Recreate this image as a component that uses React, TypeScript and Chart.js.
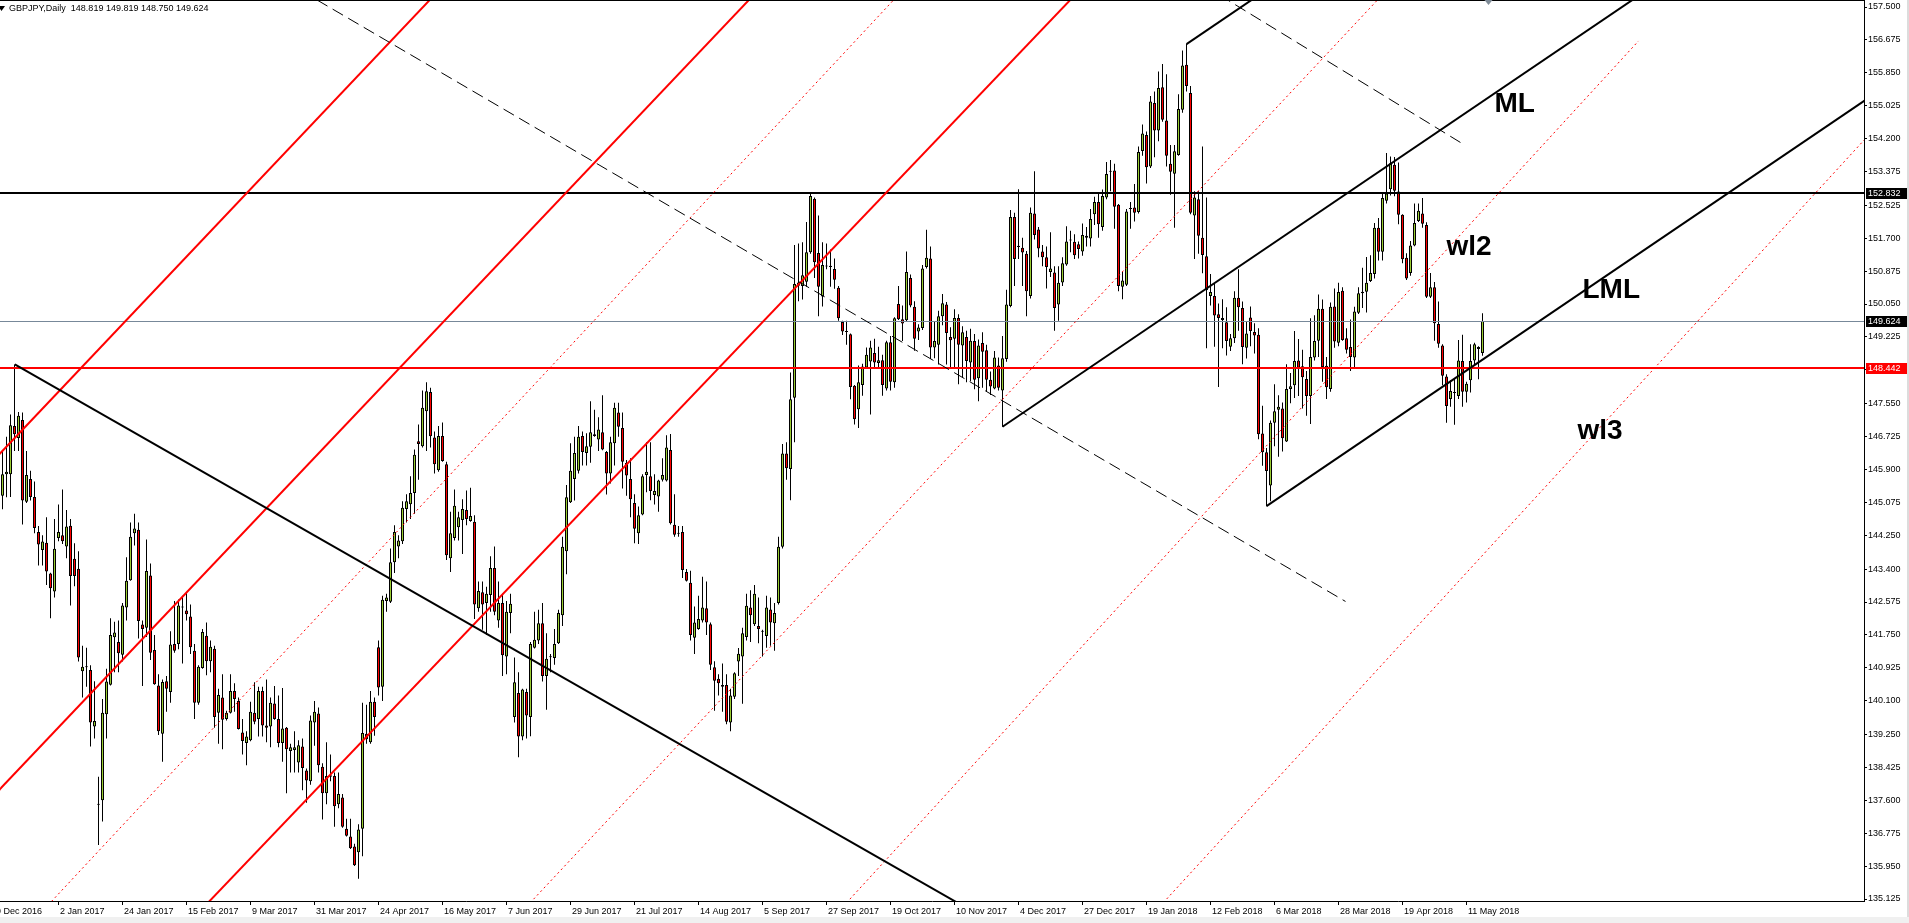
import React, { useEffect, useRef } from "react";
import { Chart, registerables } from "chart.js";

Chart.register(...registerables);

// ---------------- data ----------------
const SYMBOL = "GBPJPY";
const PERIOD = "Daily";
const FIRST_BAR = 2; // bar index of the first candle (bar 0 = 9 Dec 2016)

const opens = [
  145.24,145.78,145.78,146.99,146.69,147.14,145.09,145.66,145.21,144.33,
  143.88,144.06,143.29,142.84,144.18,144.25,143.97,144.49,143.66,143.41,
  140.84,140.95,140.87,139.45,137.51,137.60,139.76,140.50,141.69,141.57,
  141.25,142.44,143.12,144.30,144.39,142.01,141.93,143.24,141.37,140.48,
  139.27,140.59,140.32,141.52,141.52,142.45,142.36,142.21,141.35,140.05,
  140.92,141.73,141.09,141.40,139.80,140.18,139.64,139.80,140.34,140.09,
  139.30,139.04,139.11,139.80,139.64,140.34,139.48,139.45,140.03,139.64,
  139.04,139.42,138.84,138.86,138.55,138.95,138.35,138.08,139.55,139.78,
  138.44,137.78,138.19,138.21,137.50,137.67,136.89,136.69,136.44,136.30,
  136.89,139.27,139.06,140.07,141.44,140.45,142.60,142.58,143.57,143.97,
  144.10,144.91,145.03,145.31,146.61,146.48,147.36,147.84,146.70,145.88,
  146.74,146.03,143.67,144.18,144.45,144.63,144.88,144.61,144.59,142.42,
  142.82,142.55,142.75,143.43,142.11,142.55,141.21,142.30,139.69,140.29,
  139.20,140.32,139.69,141.43,141.61,142.04,140.72,141.19,141.17,141.54,
  142.24,143.85,145.08,145.66,145.87,146.74,146.31,146.47,146.74,146.65,
  146.83,146.34,145.80,146.56,147.33,146.94,146.06,145.66,145.06,144.30,
  144.77,145.76,145.73,145.26,145.22,145.64,145.62,146.39,144.51,144.30,
  144.33,143.33,143.06,141.68,141.90,142.11,142.42,142.02,140.94,140.65,
  140.49,140.49,139.55,140.20,141.08,141.21,141.70,142.44,142.02,141.97,
  141.84,141.72,142.39,142.04,142.55,143.96,146.30,145.91,147.70,150.51,
  150.50,150.61,151.35,152.69,151.33,150.24,151.01,151.01,150.93,150.46,
  149.60,149.36,149.29,148.00,147.41,148.02,148.46,148.61,148.82,148.57,
  148.64,147.93,149.09,148.09,150.05,149.67,149.64,150.70,149.98,149.36,
  149.45,150.98,151.19,148.96,149.03,149.74,150.04,149.22,149.18,149.70,
  149.01,149.22,148.58,149.12,148.19,149.07,148.89,148.15,147.93,148.51,
  147.88,148.67,150.00,152.23,151.51,151.46,151.31,150.25,152.32,151.92,
  151.37,151.22,150.85,150.84,150.04,150.59,151.04,151.64,151.61,151.55,
  151.37,151.76,151.69,152.30,152.61,151.98,152.72,153.37,153.40,152.54,
  150.48,150.53,152.43,152.47,152.36,153.89,154.29,153.50,155.09,154.40,
  155.49,154.65,153.57,153.32,153.79,154.92,156.05,155.34,152.27,152.68,
  151.71,151.25,150.25,150.25,149.79,149.70,149.59,148.98,149.19,150.21,
  149.95,148.95,149.71,149.35,149.28,146.80,146.33,145.50,147.07,147.40,
  147.43,146.60,147.92,148.01,148.63,148.49,148.17,147.74,148.71,149.13,
  149.93,148.50,147.92,149.99,149.08,150.38,149.19,148.97,148.71,149.83,
  150.32,150.36,150.63,150.80,151.96,151.36,152.64,152.93,153.54,152.87,
  152.29,151.21,150.83,151.52,152.13,152.32,152.03,150.23,150.47,149.55,
  149.01,148.23,147.67,147.83,147.74,148.62,147.85,148.14,148.63,148.97,
  148.819,
];

const highs = [
  146.36,146.72,147.28,148.53,147.34,147.33,146.36,145.87,145.60,144.48,
  144.25,144.70,143.31,144.66,145.02,145.40,144.88,144.66,144.05,143.85,
  141.48,141.43,140.99,140.59,138.19,140.14,140.90,142.17,142.08,142.11,
  142.55,143.70,144.57,144.79,144.57,142.11,144.14,143.54,141.75,140.76,
  140.63,140.72,141.84,142.60,142.64,142.73,142.82,142.51,141.52,140.99,
  141.90,142.06,141.61,141.48,140.40,140.76,139.85,140.76,140.54,140.18,
  139.64,139.33,140.07,140.56,140.45,140.45,140.63,140.18,140.47,140.23,
  140.42,139.44,139.02,139.33,139.11,139.15,138.40,139.73,140.09,139.93,
  138.53,139.06,138.75,138.30,138.30,137.76,137.14,137.14,136.51,137.00,
  140.05,140.00,140.34,140.18,141.61,142.73,142.78,143.92,144.50,144.25,
  145.10,145.28,145.73,146.40,147.03,147.88,148.09,147.95,146.85,146.99,
  147.08,146.09,144.84,145.40,144.84,145.15,145.37,145.44,144.75,143.09,
  143.09,142.96,143.72,143.97,143.09,142.78,142.60,142.78,141.18,140.81,
  140.40,140.40,141.57,142.33,142.38,142.55,141.79,141.27,141.90,142.38,
  144.21,145.51,146.56,146.72,146.99,146.85,146.81,147.61,147.40,147.21,
  147.76,146.36,146.72,147.57,147.57,147.33,146.14,146.18,145.28,144.97,
  145.78,146.58,146.58,145.78,145.64,146.18,146.76,146.79,145.28,144.48,
  144.48,143.40,143.36,142.46,142.73,143.21,143.09,142.06,141.09,140.76,
  141.03,140.76,140.40,140.81,141.42,141.93,142.78,142.87,143.00,142.69,
  141.88,142.73,142.69,142.55,144.21,146.54,146.58,148.33,151.53,151.57,
  151.60,152.11,152.82,152.72,152.27,151.60,151.57,151.42,151.19,150.50,
  149.63,149.63,149.31,148.02,148.51,148.55,148.96,149.13,149.18,148.98,
  148.78,149.13,149.25,149.72,150.50,150.01,151.37,150.79,150.12,149.54,
  151.03,151.91,151.49,149.61,149.88,150.30,150.10,149.47,149.92,149.79,
  149.49,149.38,149.43,149.30,149.16,149.34,149.03,148.36,148.87,148.71,
  149.25,150.41,152.41,152.34,152.93,151.71,151.38,152.47,153.38,151.98,
  151.53,151.49,151.85,151.00,151.00,151.22,152.00,151.89,151.80,151.62,
  152.07,151.98,152.43,152.74,152.83,152.92,153.61,153.66,153.57,152.56,
  150.86,152.43,152.61,153.06,154.00,154.55,154.38,155.27,155.38,155.88,
  156.07,155.81,154.04,154.04,155.31,156.41,156.57,155.52,152.88,152.88,
  154.00,152.72,150.80,150.55,150.06,150.17,149.97,149.30,150.37,150.92,
  150.11,149.62,149.99,149.57,149.44,147.50,146.44,147.13,148.04,147.76,
  147.58,148.54,148.32,149.37,149.17,148.90,148.37,149.69,149.77,150.29,
  150.16,148.72,150.09,150.44,150.58,150.47,149.44,149.66,149.98,150.47,
  150.96,151.23,151.27,152.08,152.21,152.86,153.84,153.75,153.74,153.60,
  152.30,151.32,151.63,152.57,152.57,152.71,152.10,150.83,150.60,150.11,
  149.04,148.29,148.14,148.19,149.15,149.28,148.10,149.04,149.08,148.99,
  149.819,
];

const lows = [
  144.90,145.20,145.21,146.36,146.36,144.52,145.06,145.12,144.30,143.49,
  143.49,143.00,142.17,142.69,144.10,144.03,143.67,142.49,142.97,141.08,
  140.18,140.45,138.95,139.15,136.48,137.07,139.15,140.48,140.81,140.81,
  141.08,142.11,143.11,143.99,141.66,140.47,141.70,141.12,140.50,139.24,
  138.57,139.82,140.05,141.30,141.39,141.03,142.11,141.27,139.64,140.00,
  140.90,140.74,140.81,139.42,139.02,138.88,139.60,139.78,139.82,139.38,
  138.75,138.48,139.08,139.51,139.20,139.20,139.06,138.93,139.62,138.93,
  138.57,137.78,138.30,138.30,138.30,137.85,137.54,137.99,138.97,138.30,
  137.12,137.50,138.08,136.94,137.40,136.91,136.69,136.38,135.95,135.63,
  136.20,139.02,139.02,139.22,140.23,140.09,142.33,142.55,143.30,143.67,
  144.03,144.57,144.66,144.79,145.64,146.45,146.36,146.45,145.80,145.84,
  146.09,143.63,143.33,144.12,144.12,143.78,144.50,144.59,142.15,142.33,
  141.88,141.75,142.33,142.24,141.93,140.72,140.76,141.79,139.55,138.68,
  139.11,139.15,139.21,141.41,141.52,140.58,139.87,140.81,141.00,141.52,
  141.97,143.27,145.06,145.12,145.80,146.00,146.00,146.07,146.72,146.36,
  146.38,145.27,145.55,146.00,146.72,145.42,145.24,144.70,144.05,144.03,
  144.75,145.33,145.13,145.02,144.84,145.60,145.60,144.52,144.21,144.21,
  143.18,143.09,141.61,141.27,141.88,142.06,141.75,140.87,139.85,140.23,
  139.82,139.51,139.33,140.14,140.72,140.02,141.61,141.57,141.97,141.54,
  141.21,141.43,141.48,141.35,142.51,143.92,145.64,145.13,146.58,150.12,
  150.16,150.48,151.31,150.70,149.74,149.99,150.92,150.48,150.43,149.63,
  149.27,149.03,147.66,147.03,146.94,147.75,148.42,147.28,148.42,148.42,
  147.75,147.88,147.88,147.95,149.65,149.12,149.60,149.97,148.88,149.15,
  149.40,150.94,148.67,148.69,148.53,149.52,148.53,148.45,148.45,148.04,
  148.22,148.09,148.11,147.91,147.61,147.95,147.86,147.77,147.91,147.88,
  146.97,148.60,149.97,150.50,151.18,150.50,149.74,150.19,151.67,151.22,
  151.00,150.44,150.73,149.38,149.63,150.50,151.01,151.35,151.18,151.19,
  151.26,151.49,151.49,152.03,151.71,151.89,152.68,152.88,151.94,150.37,
  150.17,150.50,151.94,152.12,152.32,153.77,153.07,153.46,153.73,154.13,
  154.62,153.50,152.79,151.96,153.77,154.85,155.38,152.30,151.18,151.31,
  150.82,148.94,150.01,148.98,147.97,148.94,148.76,148.87,149.07,149.38,
  148.54,148.68,148.99,148.81,146.66,145.99,144.98,145.10,146.48,146.22,
  146.35,146.59,147.56,147.69,147.74,147.43,147.25,147.04,148.63,148.72,
  148.10,147.67,147.85,148.95,148.99,149.13,148.81,148.37,148.45,149.80,
  149.95,149.84,150.60,150.69,151.14,151.14,152.57,152.77,152.75,152.05,
  151.07,150.65,150.76,151.50,152.11,151.96,150.20,150.20,149.13,148.95,
  148.01,147.07,147.47,147.02,147.67,147.47,147.58,147.83,148.50,148.16,
  148.750,
];

const closes = [
  145.78,145.84,147.01,146.78,147.25,145.12,145.76,145.21,144.43,144.02,
  144.09,143.34,142.92,143.91,144.33,144.10,144.47,143.23,143.23,141.18,
  140.95,140.94,139.55,139.59,137.49,139.80,140.58,141.75,141.81,141.29,
  142.49,143.11,144.21,144.42,142.10,141.90,143.35,141.30,140.51,139.33,
  140.57,140.40,141.51,141.35,142.49,142.44,142.27,141.44,140.05,140.95,
  141.82,141.09,141.45,139.69,140.24,139.62,139.80,140.34,140.14,139.39,
  139.09,139.20,139.82,139.57,140.34,139.48,139.42,140.05,139.64,139.04,
  139.40,138.88,138.93,138.93,138.98,138.41,138.10,139.60,139.82,138.48,
  137.78,138.21,138.23,137.45,137.76,136.94,136.71,136.40,135.97,136.87,
  139.29,139.13,140.07,139.69,140.43,142.63,142.69,143.57,144.33,144.12,
  144.94,145.10,145.31,146.27,146.54,147.45,147.86,146.73,146.03,146.74,
  146.11,143.75,144.30,144.99,144.70,144.91,144.66,144.73,142.51,142.85,
  142.51,142.78,143.43,142.33,142.55,141.24,142.33,142.53,140.56,139.20,
  140.38,139.73,141.52,141.63,142.04,140.72,141.15,141.21,141.52,142.30,
  143.96,145.20,145.87,146.31,146.72,146.34,146.48,146.83,146.78,146.90,
  146.40,145.80,146.58,147.45,146.97,146.09,145.75,145.15,144.41,144.75,
  145.73,145.84,145.36,145.36,145.62,145.76,146.45,144.55,144.26,144.29,
  143.38,143.11,141.75,142.06,142.15,142.44,142.06,141.00,140.60,140.54,
  140.45,139.57,140.23,140.79,141.28,141.79,142.48,142.24,142.78,141.90,
  141.83,142.44,142.06,142.30,143.96,146.30,145.93,147.66,150.55,150.59,
  150.77,151.35,152.76,151.10,150.48,151.03,150.99,150.98,150.66,149.69,
  149.36,149.35,147.97,147.16,148.09,148.48,148.78,148.96,148.58,148.64,
  148.02,149.09,148.10,149.69,149.67,149.56,150.85,150.01,149.18,149.46,
  150.94,151.21,148.96,149.12,149.74,150.07,149.32,149.14,149.70,149.03,
  149.34,148.62,149.13,148.15,149.01,148.85,148.15,147.98,148.71,147.95,
  148.69,150.04,152.23,151.18,151.48,151.34,150.37,152.34,151.78,151.44,
  151.22,150.98,150.94,149.95,150.58,151.07,151.62,151.65,151.27,151.43,
  151.78,151.71,152.18,152.61,152.05,152.76,153.31,153.38,152.49,150.50,
  150.64,152.37,152.46,152.34,153.86,154.33,153.48,155.13,154.40,155.47,
  154.67,153.77,153.37,153.88,154.94,156.03,155.52,152.34,152.72,151.76,
  151.28,150.40,150.35,149.76,149.70,149.65,149.12,149.19,150.21,149.97,
  148.97,149.31,149.37,149.26,146.78,146.33,145.86,147.07,147.36,147.47,
  146.68,147.92,147.99,148.62,148.45,148.21,147.74,148.72,149.12,149.93,
  148.47,147.96,149.98,149.11,150.35,149.15,148.90,148.72,149.86,150.32,
  150.36,150.58,150.83,151.96,151.36,152.71,152.82,153.58,152.89,152.29,
  151.17,150.69,151.52,152.08,152.39,152.06,150.23,150.47,149.57,149.05,
  148.25,147.49,147.87,147.82,148.63,147.85,148.05,148.62,149.04,148.92,
  149.624,
];

const xTickBars = [0,16,32,48,64,80,96,112,128,144,160,176,192,208,224,240,256,272,288,304,320,336,352,368];
const xTickLabels = [
  "9 Dec 2016","2 Jan 2017","24 Jan 2017","15 Feb 2017","9 Mar 2017","31 Mar 2017",
  "24 Apr 2017","16 May 2017","7 Jun 2017","29 Jun 2017","21 Jul 2017","14 Aug 2017",
  "5 Sep 2017","27 Sep 2017","19 Oct 2017","10 Nov 2017","4 Dec 2017","27 Dec 2017",
  "19 Jan 2018","12 Feb 2018","6 Mar 2018","28 Mar 2018","19 Apr 2018","11 May 2018",
];
const yTickValues = [
  157.5,156.675,155.85,155.025,154.2,153.375,152.525,151.7,150.875,150.05,149.225,148.4,
  147.55,146.725,145.9,145.075,144.25,143.4,142.575,141.75,140.925,140.1,139.25,138.425,
  137.6,136.775,135.95,135.125,
];
const levelPrices = [152.832, 149.624, 148.442];

// trend lines: two anchor points [bar, price]; ext = which side runs on to the chart edge
const redSolidLines = [
  { a: [1.5, 146.314], b: [30.675, 149.403], ext: "both" },
  { a: [1.5, 137.899], b: [79, 146.091], ext: "both" },
  { a: [56.5, 135.36], b: [156.5, 145.865], ext: "both" },
];
const redDottedLines = [
  { a: [17, 135.36], b: [156.5, 150.343], ext: "both" },
  { a: [137, 135.36], b: [311.5, 154.015], ext: "both" },
  { a: [326.5, 147.422], b: [411, 156.648], ext: "start" },
  { a: [371, 143.637], b: [466.75, 154.091], ext: "both" },
];
const blackSolidLines = [
  { a: [5.075, 148.535], b: [79, 144.299], ext: "end" },
  { a: [252, 146.97], b: [326.5, 152.035], ext: "end" },
  { a: [318, 144.98], b: [467.5, 155.151], ext: "end" },
  { a: [298, 156.57], b: [318, 157.93], ext: "end" },
];
const blackDashedLines = [
  { a: [80.65, 157.675], b: [337.75, 142.589], ext: "none" },
  { a: [326.5, 156.557], b: [367.5, 154.04], ext: "start" },
];
const textLabels = [
  { text: "ML", bar: 375, price: 154.87 },
  { text: "wl2", bar: 363, price: 151.28 },
  { text: "LML", bar: 397, price: 150.205 },
  { text: "wl3", bar: 395.75, price: 146.67 },
];
const SHIFT_MARKER_BAR = 373.5;

// ---------------- layout / styles ----------------
const W = 1909;
const H = 923;
const X_MIN = 1.375;
const X_MAX = 467.375;
const Y_MAX = 157.6756;
const Y_MIN = 135.075;
const FONT = "'Liberation Sans', Arial, sans-serif";
const GREEN = "#9acd32";
const RED = "#ff0000";

const LINE_STYLES = [
  { lines: redSolidLines, color: "#ff0000", width: 2, dash: [] as number[] },
  { lines: redDottedLines, color: "#ff0000", width: 1, dash: [2, 3] },
  { lines: blackDashedLines, color: "#000000", width: 1, dash: [12, 6] },
  { lines: blackSolidLines, color: "#000000", width: 2, dash: [] as number[] },
];
const LEVEL_STYLES = [
  { line: "#000000", width: 2, box: "#000000" },
  { line: "#778899", width: 1, box: "#000000" },
  { line: "#ff0000", width: 2, box: "#ff0000" },
];

const fmt = (v: number) => v.toFixed(3);

function strokeTrend(ctx: CanvasRenderingContext2D, xs: any, ys: any, ln: any) {
  const [i1, v1] = ln.a;
  const [i2, v2] = ln.b;
  const t0 = ln.ext === "both" || ln.ext === "start" ? -40 : 0;
  const t1 = ln.ext === "both" || ln.ext === "end" ? 40 : 1;
  const P = (t: number) => [
    xs.getPixelForValue(i1 + (i2 - i1) * t),
    ys.getPixelForValue(v1 + (v2 - v1) * t),
  ];
  const [xa, ya] = P(t0);
  const [xb, yb] = P(t1);
  ctx.beginPath();
  ctx.moveTo(xa, ya);
  ctx.lineTo(xb, yb);
  ctx.stroke();
}

const overlayPlugin = {
  id: "mt4Overlay",
  afterDatasetsDraw(chart: any) {
    const { ctx, chartArea: ca } = chart;
    const xs = chart.scales.x;
    const ys = chart.scales.y;
    ctx.save();
    ctx.beginPath();
    ctx.rect(ca.left, ca.top, ca.right - ca.left, ca.bottom - ca.top);
    ctx.clip();

    // horizontal price levels
    levelPrices.forEach((p, k) => {
      const st = LEVEL_STYLES[k];
      const yy = Math.round(ys.getPixelForValue(p));
      ctx.strokeStyle = st.line;
      ctx.lineWidth = st.width;
      ctx.setLineDash([]);
      const y = st.width % 2 === 1 ? yy + 0.5 : yy;
      ctx.beginPath();
      ctx.moveTo(ca.left, y);
      ctx.lineTo(ca.right, y);
      ctx.stroke();
    });

    // trend lines
    for (const g of LINE_STYLES) {
      ctx.strokeStyle = g.color;
      ctx.lineWidth = g.width;
      ctx.setLineDash(g.dash);
      for (const ln of g.lines) strokeTrend(ctx, xs, ys, ln);
    }
    ctx.setLineDash([]);

    // text labels
    ctx.fillStyle = "#000";
    ctx.font = `bold 28px ${FONT}`;
    ctx.textAlign = "left";
    ctx.textBaseline = "alphabetic";
    for (const t of textLabels) {
      ctx.fillText(t.text, xs.getPixelForValue(t.bar), ys.getPixelForValue(t.price));
    }
    ctx.restore();
  },
  afterDraw(chart: any) {
    const { ctx, chartArea: ca } = chart;
    const xs = chart.scales.x;
    const ys = chart.scales.y;
    ctx.save();
    // top border
    ctx.fillStyle = "#000";
    ctx.fillRect(0, 0, ca.right + 1, 1);

    // chart shift marker
    const mx = xs.getPixelForValue(SHIFT_MARKER_BAR);
    ctx.fillStyle = "#7f8b97";
    ctx.beginPath();
    ctx.moveTo(mx - 4, 0);
    ctx.lineTo(mx + 4, 0);
    ctx.lineTo(mx, 5);
    ctx.closePath();
    ctx.fill();

    // price boxes on the axis
    ctx.font = `9px ${FONT}`;
    ctx.textAlign = "left";
    ctx.textBaseline = "middle";
    levelPrices.forEach((p, k) => {
      const yy = Math.round(ys.getPixelForValue(p));
      ctx.fillStyle = LEVEL_STYLES[k].box;
      ctx.fillRect(ca.right + 2, yy - 5, 41, 11);
      ctx.fillStyle = "#fff";
      ctx.fillText(fmt(p), ca.right + 4, yy + 0.5);
    });

    // header
    const last = opens.length - 1;
    const header = `${SYMBOL},${PERIOD}  ${fmt(opens[last])} ${fmt(highs[last])} ${fmt(lows[last])} ${fmt(closes[last])}`;
    ctx.fillStyle = "#000";
    ctx.beginPath();
    ctx.moveTo(-2, 6);
    ctx.lineTo(5, 6);
    ctx.lineTo(1.5, 11);
    ctx.closePath();
    ctx.fill();
    ctx.font = `9px ${FONT}`;
    ctx.fillText(header, 9, 9);

    // window edges
    ctx.fillStyle = "#f0f0f0";
    ctx.fillRect(0, 917, W, H - 917);
    ctx.fillStyle = "#dcdcdc";
    ctx.fillRect(1907, 0, 2, 917);
    ctx.restore();
  },
};

export default function App() {
  const ref = useRef<HTMLCanvasElement>(null);

  useEffect(() => {
    const bars = opens.map((o, k) => ({ x: FIRST_BAR + k, y: [o, closes[k]] }));
    const wicks = lows.map((l, k) => ({ x: FIRST_BAR + k, y: [l, highs[k]] }));
    const bodyColors = opens.map((o, k) => (closes[k] >= o ? GREEN : RED));
    const labelFor = new Map(xTickBars.map((b, k) => [b, xTickLabels[k]]));

    const chart = new Chart(ref.current as HTMLCanvasElement, {
      type: "bar",
      data: {
        datasets: [
          {
            label: "bodies",
            data: bars as any,
            backgroundColor: bodyColors,
            borderColor: "#000",
            borderWidth: 1,
            borderSkipped: false,
            barThickness: 3,
            maxBarThickness: 3,
            grouped: false,
            minBarLength: 1,
            inflateAmount: 0,
            order: 1,
          } as any,
          {
            label: "wicks",
            data: wicks as any,
            backgroundColor: "#000",
            borderWidth: 0,
            barThickness: 1,
            maxBarThickness: 1,
            grouped: false,
            inflateAmount: 0,
            order: 2,
          } as any,
        ],
      },
      options: {
        animation: false,
        responsive: false,
        devicePixelRatio: 1,
        events: [],
        layout: { padding: 0 },
        plugins: { legend: { display: false }, tooltip: { enabled: false } },
        scales: {
          x: {
            type: "linear",
            position: "bottom",
            min: X_MIN,
            max: X_MAX,
            offset: false,
            bounds: "data",
            grid: {
              display: true,
              offset: false,
              drawOnChartArea: false,
              drawTicks: true,
              tickLength: 4,
              color: "#000",
              lineWidth: 1,
            },
            border: { display: true, color: "#000", width: 1 },
            ticks: {
              autoSkip: false,
              maxRotation: 0,
              minRotation: 0,
              align: "start",
              padding: 1,
              labelOffset: 1.5,
              color: "#000",
              font: { family: FONT, size: 9 },
              callback: (v: any) => labelFor.get(Number(v)) ?? "",
            },
            afterBuildTicks: (s: any) => {
              s.ticks = xTickBars.map((v) => ({ value: v }));
            },
            afterFit: (s: any) => {
              s.height = 22;
              s.paddingLeft = 0;
              s.paddingRight = 0;
            },
          } as any,
          y: {
            type: "linear",
            position: "right",
            min: Y_MIN,
            max: Y_MAX,
            bounds: "data",
            grid: {
              display: true,
              drawOnChartArea: false,
              drawTicks: true,
              tickLength: 3,
              color: "#000",
              lineWidth: 1,
            },
            border: { display: true, color: "#000", width: 1 },
            ticks: {
              autoSkip: false,
              padding: 1,
              color: "#000",
              font: { family: FONT, size: 9 },
              callback: (v: any) => Number(v).toFixed(3),
            },
            afterBuildTicks: (s: any) => {
              s.ticks = yTickValues.map((v) => ({ value: v }));
            },
            afterFit: (s: any) => {
              s.width = 45;
              s.paddingTop = 0;
              s.paddingBottom = 0;
            },
          } as any,
        },
      },
      plugins: [overlayPlugin as any],
    });
    return () => chart.destroy();
  }, []);

  return (
    <div style={{ position: "fixed", left: 0, top: 0, width: W, height: H, background: "#fff" }}>
      <canvas ref={ref} width={W} height={H} style={{ display: "block", width: W, height: H }} />
    </div>
  );
}
